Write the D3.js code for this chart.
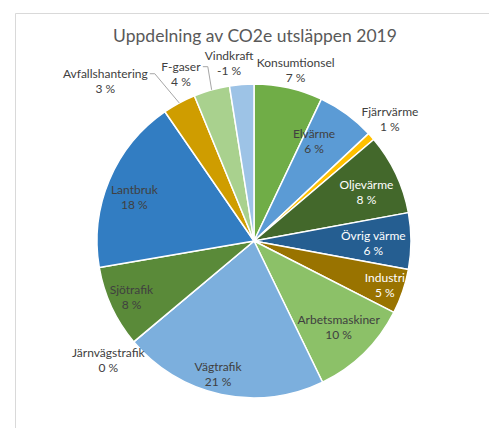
<!DOCTYPE html>
<html lang="sv">
<head>
    <meta charset="UTF-8">
    <title>Uppdelning av CO2e utsläppen 2019</title>
    <script src="https://d3js.org/d3.v7.min.js"></script>
    <style>
        body { margin: 0; background: #fff; }
    </style>
</head>
<body>
    <div id="chart"></div>
    <script>
        // Data
        const categories = ['Konsumtionsel', 'Elvärme', 'Fjärrvärme', 'Oljevärme', 'Övrig värme', 'Industri',
            'Arbetsmaskiner', 'Vägtrafik', 'Järnvägstrafik', 'Sjötrafik', 'Lantbruk', 'Avfallshantering',
            'F-gaser', 'Vindkraft'];
        // slice size (share of the circle, in %)
        const shares = [7.06, 5.95, 0.8, 8.3, 5.8, 4.6, 10.3, 21.1, 0, 8.4, 18.1, 3.4, 3.7, 2.5];
        // percent shown in the labels
        const percentLabels = [7, 6, 1, 8, 6, 5, 10, 21, 0, 8, 18, 3, 4, -1];

        const colors = ['#70AD47', '#5B9BD5', '#FFC000', '#43682B', '#255E91', '#997300',
            '#8CC168', '#7CAFDD', '#FFCD33', '#5A8A39', '#327DC2', '#CF9D00', '#A9D18E', '#9DC3E6'];

        // label placement: radius factor, angle offset (deg), text colour, leader line
        const labelLayout = {
            'Konsumtionsel': { r: 1.12, da: 1, fill: '#404040' },
            'Elvärme': { r: 0.74, da: -5, fill: '#404040' },
            'Fjärrvärme': { r: 1.16, da: 0, fill: '#404040' },
            'Oljevärme': { r: 0.78, da: 2, fill: '#fff' },
            'Övrig värme': { r: 0.76, da: 1, fill: '#fff' },
            'Industri': { r: 0.88, da: 0, fill: '#fff' },
            'Arbetsmaskiner': { r: 0.77, da: 0, fill: '#404040' },
            'Vägtrafik': { r: 0.88, da: 3, fill: '#404040' },
            'Järnvägstrafik': { r: 1.2, da: 0.6, fill: '#404040' },
            'Sjötrafik': { r: 0.86, da: 0, fill: '#404040' },
            'Lantbruk': { r: 0.81, da: -3, fill: '#404040' },
            'Avfallshantering': { r: 1.39, da: -14.5, fill: '#404040', leader: true },
            'F-gaser': { r: 1.16, da: -8, fill: '#404040', leader: true },
            'Vindkraft': { r: 1.14, da: -3.5, fill: '#404040' }
        };

        const width = 489, height = 428;
        const cx = 254, cy = 241, radius = 157;
        const fontFamily = 'Lato, "Liberation Sans", sans-serif';

        const svg = d3.select('#chart').append('svg')
            .attr('width', width)
            .attr('height', height);

        // ram runt diagrammet
        svg.append('path')
            .attr('d', `M15.5,${height} V13.5 H${width}`)
            .attr('fill', 'none')
            .attr('stroke', '#D9D9D9')
            .attr('stroke-width', 1);

        svg.append('text')
            .attr('x', 255)
            .attr('y', 42)
            .attr('text-anchor', 'middle')
            .attr('font-family', fontFamily)
            .attr('font-size', '17.5px')
            .attr('fill', '#595959')
            .text('Uppdelning av CO2e utsläppen 2019');

        const data = categories.map((c, i) => ({ name: c, share: shares[i], pct: percentLabels[i], color: colors[i] }));

        const pie = d3.pie().sort(null).value(d => d.share);
        const arcs = pie(data);
        const arc = d3.arc().innerRadius(0).outerRadius(radius);

        const g = svg.append('g').attr('transform', `translate(${cx},${cy})`);

        g.selectAll('path.slice')
            .data(arcs)
            .join('path')
            .attr('class', 'slice')
            .attr('d', arc)
            .attr('fill', d => d.data.color)
            .attr('stroke', '#fff')
            .attr('stroke-width', 1.5)
            .attr('stroke-linejoin', 'round');

        // polar point, angle in radians clockwise from 12 o'clock
        function polar(a, r) {
            return [Math.sin(a) * r, -Math.cos(a) * r];
        }

        const lineH = 15;
        arcs.forEach(d => {
            const lay = labelLayout[d.data.name];
            const mid = (d.startAngle + d.endAngle) / 2;
            const a = mid + lay.da * Math.PI / 180;
            const [x, y] = polar(a, radius * lay.r);

            const t = g.append('text')
                .attr('text-anchor', 'middle')
                .attr('font-family', fontFamily)
                .attr('font-size', '12px')
                .attr('fill', lay.fill);
            t.append('tspan').attr('x', x).attr('y', y - lineH / 2 + 4).text(d.data.name);
            t.append('tspan').attr('x', x).attr('y', y + lineH / 2 + 4).text(d.data.pct + ' %');

            if (lay.leader) {
                const w = t.node().getBBox().width;
                const [ex, ey] = polar(mid, radius);
                const sx = x + w / 2 + 2, sy = y - lineH / 2;
                g.append('polyline')
                    .attr('points', [[sx, sy], [sx + 5, sy], [ex, ey]].map(p => p.join(',')).join(' '))
                    .attr('fill', 'none')
                    .attr('stroke', '#A6A6A6')
                    .attr('stroke-width', 1);
            }
        });
    </script>
</body>
</html>
